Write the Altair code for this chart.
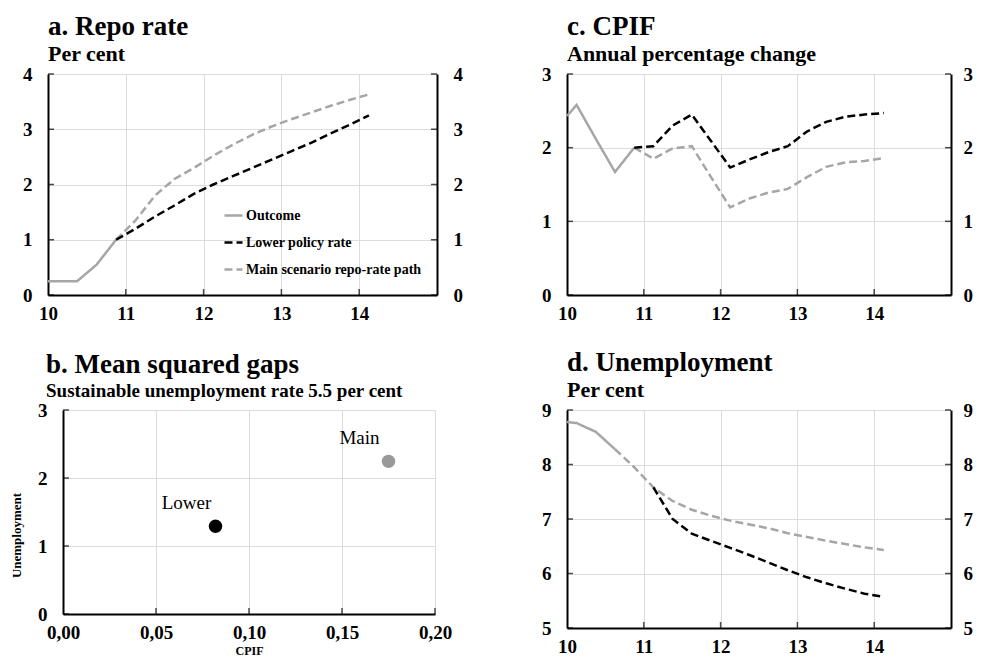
import altair as alt
import pandas as pd

FONT = "Liberation Serif"
GRAY = "#a6a6a6"
GRID = "#dcdcdc"

SERIES = ["Outcome", "Lower policy rate", "Main scenario repo-rate path"]

# ---------------- data ----------------
# time axis in years (10 = 2010), quarterly observations
out_x = [10.0, 10.125, 10.375, 10.625, 10.875]
fc_x = [10.875, 11.125, 11.375, 11.625, 11.875, 12.125, 12.375, 12.625,
        12.875, 13.125, 13.375, 13.625, 13.875, 14.125]
year_ticks = [10, 11, 12, 13, 14]

# a. Repo rate, per cent
repo_outcome = [0.25, 0.25, 0.25, 0.55, 1.0]
repo_lower = [1.0, 1.2, 1.42, 1.62, 1.83, 2.0, 2.15, 2.3, 2.45, 2.6, 2.75, 2.92, 3.08, 3.25]
repo_main = [1.0, 1.35, 1.8, 2.1, 2.3, 2.52, 2.72, 2.9, 3.05, 3.18, 3.3, 3.42, 3.53, 3.63]
repo_ticks = [0, 1, 2, 3, 4]

# c. CPIF, annual percentage change
cpif_outcome = [2.43, 2.58, 2.12, 1.67, 2.0]
cpif_lower = [2.0, 2.02, 2.3, 2.45, 2.09, 1.73, 1.84, 1.94, 2.02, 2.22, 2.35, 2.42, 2.45, 2.47]
cpif_main = [2.0, 1.85, 1.99, 2.02, 1.6, 1.19, 1.31, 1.39, 1.44, 1.6, 1.74, 1.8, 1.82, 1.86]
cpif_ticks = [0, 1, 2, 3]

# d. Unemployment, per cent
unemp_out_x = [10.0, 10.125, 10.375, 10.625]
unemp_outcome = [8.78, 8.76, 8.6, 8.28]
unemp_main_x = [10.625] + fc_x
unemp_main = [8.28, 7.95, 7.58, 7.33, 7.17, 7.06, 6.97, 6.9, 6.83, 6.74, 6.67, 6.6, 6.54, 6.48, 6.43]
unemp_lower_x = fc_x[1:]
unemp_lower = [7.58, 7.0, 6.73, 6.6, 6.47, 6.34, 6.2, 6.06, 5.93, 5.82, 5.72, 5.63, 5.57]
unemp_ticks = [5, 6, 7, 8, 9]

# b. Mean squared gaps
gap_names = ["Lower", "Main"]
gap_cpif = [0.082, 0.175]
gap_unemp = [1.29, 2.245]
gap_x_ticks = [0.0, 0.05, 0.10, 0.15, 0.20]
gap_y_ticks = [0, 1, 2, 3]


# ---------------- helpers ----------------
def series_df(parts):
    rows = []
    for name, xs, ys in parts:
        for x, y in zip(xs, ys):
            rows.append({"series": name, "x": x, "y": y})
    return pd.DataFrame(rows)


def sc(dom, rng=None):
    if rng is None:
        return alt.Scale(domain=dom, nice=False, zero=False)
    return alt.Scale(domain=dom, nice=False, zero=False, range=rng)


def tick_layers(xsc, ysc, xdom, ydom, xt, yt, right=True, right_axis=None):
    """Inward tick marks along left, bottom (and right) axis lines."""
    layers = []
    left = pd.DataFrame({"x": [xdom[0]] * len(yt), "y": yt})
    layers.append(
        alt.Chart(left).mark_tick(orient="horizontal", size=6, thickness=1.5,
                                  color="black", xOffset=3).encode(
            x=alt.X("x:Q", scale=xsc, axis=None),
            y=alt.Y("y:Q", scale=ysc, axis=None),
        )
    )
    bottom = pd.DataFrame({"x": xt, "y": [ydom[0]] * len(xt)})
    layers.append(
        alt.Chart(bottom).mark_tick(orient="vertical", size=6, thickness=1.5,
                                    color="black", yOffset=-3).encode(
            x=alt.X("x:Q", scale=xsc, axis=None),
            y=alt.Y("y:Q", scale=ysc, axis=None),
        )
    )
    if right:
        rdf = pd.DataFrame({"x": [xdom[1]] * len(yt), "y": yt})
        layers.append(
            alt.Chart(rdf).mark_tick(orient="horizontal", size=6, thickness=1.5,
                                     color="black", xOffset=-3).encode(
                x=alt.X("x:Q", scale=xsc, axis=None),
                y=alt.Y("y:Q", scale=ysc, axis=right_axis),
            )
        )
    return layers


def y_axis(values, orient, grid, min_extent, pad=16):
    return alt.Axis(values=values, orient=orient, grid=grid, gridColor=GRID, gridWidth=1,
                    ticks=False, domainColor="black", domainWidth=2, labelPadding=pad,
                    minExtent=min_extent, title=None, format="d")


def line_panel(df, ydom, yticks, title, subtitle, width, height, legend=False,
               left_extent=30, right_extent=30, right_pad=16):
    xdom = [10, 15]
    leg = None
    if legend:
        leg = alt.Legend(title=None, orient="none", legendX=175, legendY=131,
                         symbolType="stroke", symbolSize=324, symbolStrokeWidth=2.5,
                         labelFont=FONT, labelFontWeight="bold", labelFontSize=14,
                         labelColor="black", rowPadding=9, labelOffset=2, labelLimit=400)
    lines = alt.Chart(df).mark_line(strokeWidth=2.5).encode(
        x=alt.X("x:Q", scale=sc(xdom),
                axis=alt.Axis(values=year_ticks, format="d", grid=True, gridColor=GRID,
                              ticks=False, domainColor="black", domainWidth=2,
                              labelPadding=9, labelFlush=False, title=None)),
        y=alt.Y("y:Q", scale=sc(ydom), axis=y_axis(yticks, "left", True, left_extent)),
        color=alt.Color("series:N", scale=alt.Scale(domain=SERIES, range=[GRAY, "black", GRAY]),
                        legend=leg),
        strokeDash=alt.StrokeDash("series:N",
                                  scale=alt.Scale(domain=SERIES, range=[[1, 0], [8, 4], [8, 4]]),
                                  legend=leg),
        order=alt.Order("x:Q"),
    )
    layers = [lines] + tick_layers(sc(xdom), sc(ydom), xdom, ydom, year_ticks[1:], yticks,
                                   right=True,
                                   right_axis=y_axis(yticks, "right", False, right_extent,
                                                     right_pad))
    return alt.layer(*layers).resolve_axis(x="independent", y="independent").properties(
        width=width, height=height,
        title=alt.TitleParams(text=title, subtitle=subtitle, frame="group"),
    )


# ---------------- panels ----------------
df_a = series_df([
    ("Outcome", out_x, repo_outcome),
    ("Main scenario repo-rate path", fc_x, repo_main),
    ("Lower policy rate", fc_x, repo_lower),
])
panel_a = line_panel(df_a, [0, 4], repo_ticks, "a. Repo rate", "Per cent", 389, 221,
                     legend=True, left_extent=37)

df_c = series_df([
    ("Outcome", out_x, cpif_outcome),
    ("Main scenario repo-rate path", fc_x, cpif_main),
    ("Lower policy rate", fc_x, cpif_lower),
])
panel_c = line_panel(df_c, [0, 3], cpif_ticks, "c. CPIF", "Annual percentage change", 384, 221,
                     right_extent=0, right_pad=12)

df_d = series_df([
    ("Outcome", unemp_out_x, unemp_outcome),
    ("Main scenario repo-rate path", unemp_main_x, unemp_main),
    ("Lower policy rate", unemp_lower_x, unemp_lower),
])
panel_d = line_panel(df_d, [5, 9], unemp_ticks, "d. Unemployment", "Per cent", 384, 218,
                     right_extent=0, right_pad=12)

# panel b: scatter (plot area inset 15px from the column's left edge, as in the original)
B_INSET = 15
B_W = 387
bxs = sc([0, 0.2], [B_INSET, B_W])
bys = sc([0, 3])
pts = pd.DataFrame({"name": gap_names, "cpif": gap_cpif, "unemp": gap_unemp})
bx = alt.X("cpif:Q", scale=bxs,
           axis=alt.Axis(values=gap_x_ticks, grid=True, gridColor=GRID, ticks=False,
                         domainColor="black", domainWidth=2, labelPadding=9, labelFlush=False,
                         labelExpr="replace(format(datum.value, '.2f'), '.', ',')",
                         title="CPIF", titleFont=FONT, titleFontWeight="bold",
                         titleFontSize=12, titleColor="black", titlePadding=3,
                         titleX=(B_INSET + B_W) / 2))
by = alt.Y("unemp:Q", scale=bys,
           axis=alt.Axis(values=gap_y_ticks, grid=True, gridColor=GRID, ticks=False,
                         domainColor="black", domainWidth=2, labelPadding=16, format="d",
                         offset=-B_INSET,
                         title="Unemployment", titleFont=FONT, titleFontWeight="bold",
                         titleFontSize=13, titleColor="black",
                         titleX=-40, titleY=125))
pts_base = alt.Chart(pts)
points = pts_base.mark_circle(size=180, opacity=1).encode(
    x=bx, y=by,
    color=alt.Color("name:N", scale=alt.Scale(domain=gap_names, range=["black", "#999999"]),
                    legend=None),
)
point_labels = pts_base.mark_text(font=FONT, fontSize=19, dx=-29, dy=-23, color="black").encode(
    x=alt.X("cpif:Q", scale=bxs, axis=None),
    y=alt.Y("unemp:Q", scale=bys, axis=None),
    text="name:N")
panel_b = alt.layer(points, point_labels,
                    *tick_layers(bxs, bys, [0, 0.2], [0, 3], gap_x_ticks[1:], gap_y_ticks,
                                 right=False)
                    ).resolve_axis(x="independent", y="independent").properties(
    width=B_W, height=204,
    title=alt.TitleParams(text="b. Mean squared gaps",
                          subtitle="Sustainable unemployment rate 5.5 per cent",
                          subtitleFontSize=19, dx=-2, frame="group"),
)

row1 = alt.hconcat(panel_a, panel_c, spacing=70).resolve_scale(
    color="independent", strokeDash="independent")
row2 = alt.hconcat(panel_b, panel_d, spacing=85).resolve_scale(
    color="independent", strokeDash="independent")

chart = alt.vconcat(row1, row2, spacing=26).resolve_scale(
    color="independent", strokeDash="independent"
).properties(
    padding={"left": 2, "top": 5, "right": 0, "bottom": 0}
).configure(font=FONT).configure_view(stroke=None).configure_axis(
    labelFont=FONT, labelFontWeight="bold", labelFontSize=19, labelColor="black",
).configure_title(
    font=FONT, fontSize=27, fontWeight="bold", color="black", anchor="start",
    subtitleFont=FONT, subtitleFontSize=22, subtitleFontWeight="bold", subtitleColor="black",
    offset=-1, subtitlePadding=3,
)

chart.save("out.html", embed_options={"renderer": "svg", "actions": False})
